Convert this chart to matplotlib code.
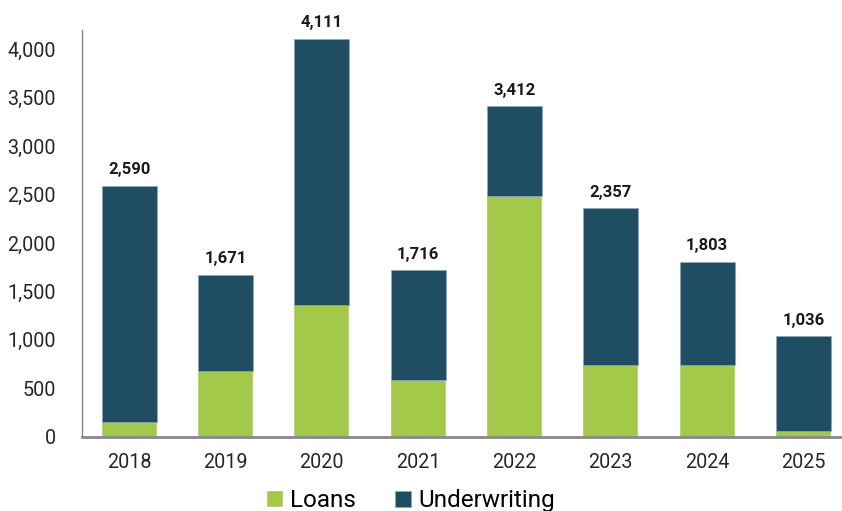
import matplotlib
matplotlib.use("Agg")
import matplotlib.pyplot as plt
import numpy as np

years = ["2018", "2019", "2020", "2021", "2022", "2023", "2024", "2025"]
totals = [2590, 1671, 4111, 1716, 3412, 2357, 1803, 1036]
loans = [150, 680, 1360, 580, 2490, 740, 740, 60]
underwriting = [t - l for t, l in zip(totals, loans)]

green = "#a3c94a"
navy = "#1f4d61"

plt.rcParams["font.family"] = ["Roboto", "DejaVu Sans"]

fig = plt.figure(figsize=(8.42, 5.11), dpi=100)
ax = fig.add_axes([82 / 842, 1 - 436.5 / 511, (842 - 82) / 842, (436.5 - 30) / 511])

x = np.arange(len(years))
w = 0.57
ax.bar(x, loans, w, color=green, label="Loans", edgecolor="white", linewidth=0.3)
ax.bar(x, underwriting, w, bottom=loans, color=navy, label="Underwriting",
       edgecolor="#8fa9b6", linewidth=0.5)

for xi, t in zip(x, totals):
    ax.text(xi, t + 90, f"{t:,}", ha="center", va="bottom",
            fontsize=12, fontweight="bold", color="#1a1a1a")

ax.set_xlim(-0.49, 7.4)
ax.set_ylim(0, 4200)
ax.set_yticks(range(0, 4001, 500))
ax.set_yticklabels([f"{v:,}" for v in range(0, 4001, 500)])
ax.set_xticks(x)
ax.set_xticklabels(years)
ax.tick_params(axis="both", length=0, labelsize=14.2, colors="#262626")
ax.tick_params(axis="y", pad=19)
ax.tick_params(axis="x", pad=12)

for s in ["top", "right"]:
    ax.spines[s].set_visible(False)
ax.spines["left"].set_color("#888888")
ax.spines["bottom"].set_color("#888888")
ax.spines["bottom"].set_linewidth(2)
ax.spines["left"].set_linewidth(1)

handles, labels = ax.get_legend_handles_labels()
fig.legend(handles, labels, loc="center", bbox_to_anchor=(0.488, 0.02),
           ncol=2, frameon=False, fontsize=17.5, handlelength=0.65, handleheight=0.65,
           handletextpad=0.3, columnspacing=1.6)

fig.savefig("out.png", dpi=100)
